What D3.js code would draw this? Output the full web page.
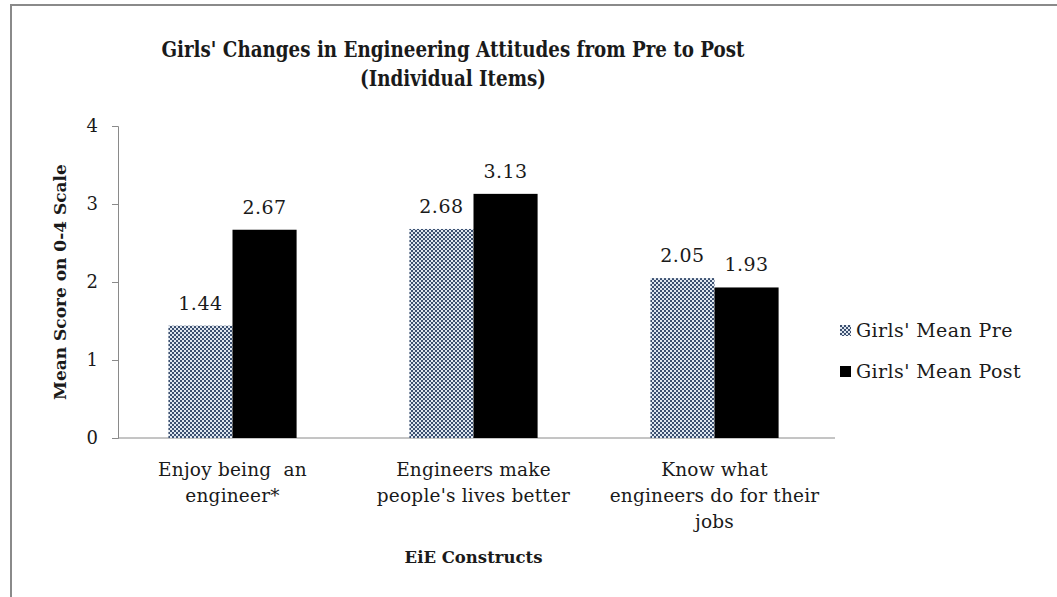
<!DOCTYPE html>
<html>
<head>
<meta charset="utf-8">
<script src="https://cdn.jsdelivr.net/npm/d3@7"></script>
<style>
  body { margin: 0; background: #fff; }
  text { font-family: "DejaVu Serif", serif; fill: #1a1a1a; white-space: pre; }
</style>
</head>
<body>
<svg id="chart" width="1057" height="597"></svg>
<script>
const categories = [
    ["Enjoy being  an", "engineer*"],
    ["Engineers make", "people's lives better"],
    ["Know what", "engineers do for their", "jobs"]
];
const seriesNames = ["Girls' Mean Pre", "Girls' Mean Post"];
const preValues = [1.44, 2.68, 2.05];
const postValues = [2.67, 3.13, 1.93];
const yTicks = [0, 1, 2, 3, 4];

const svg = d3.select("#chart");

// frame
svg.append("rect")
    .attr("x", 11).attr("y", 5)
    .attr("width", 1100).attr("height", 700)
    .attr("fill", "none")
    .attr("stroke", "#8a8a8a")
    .attr("stroke-width", 2);

// checker pattern for the pre bars
const defs = svg.append("defs");
const pat = defs.append("pattern")
    .attr("id", "checker")
    .attr("width", 4).attr("height", 4)
    .attr("patternUnits", "userSpaceOnUse");
pat.append("rect").attr("width", 4).attr("height", 4).attr("fill", "#dfe7f0");
pat.append("rect").attr("x", 0).attr("y", 0).attr("width", 2).attr("height", 2).attr("fill", "#3c5070");
pat.append("rect").attr("x", 2).attr("y", 2).attr("width", 2).attr("height", 2).attr("fill", "#3c5070");

const axisX = 118, axisEnd = 835, yTop = 126, yBottom = 438;

const xScale = d3.scaleBand()
    .domain(d3.range(categories.length))
    .range([112, axisEnd]);

const xInner = d3.scaleBand()
    .domain([0, 1])
    .range([0, xScale.bandwidth()])
    .paddingOuter(0.88);

const yScale = d3.scaleLinear()
    .domain([0, 4])
    .range([yBottom, yTop]);

// y axis
const yAxis = svg.append("g")
    .attr("transform", `translate(${axisX},0)`)
    .call(d3.axisLeft(yScale).tickValues(yTicks).tickSize(6).tickPadding(14).tickFormat(d3.format("d")));
yAxis.selectAll("path, line").attr("stroke", "#8a8a8a");
yAxis.selectAll("text").style("font-size", "18px").attr("font-family", "DejaVu Serif").attr("fill", "#1a1a1a");

// x axis baseline
svg.append("line")
    .attr("x1", axisX).attr("x2", axisEnd)
    .attr("y1", yBottom).attr("y2", yBottom)
    .attr("stroke", "#8a8a8a");

const groups = svg.selectAll(".grp")
    .data(categories)
    .enter().append("g")
    .attr("transform", (d, i) => `translate(${xScale(i)},0)`);

const seriesVals = [preValues, postValues];
const fills = ["url(#checker)", "#000"];

groups.each(function (cat, i) {
    const g = d3.select(this);
    [0, 1].forEach(s => {
        const v = seriesVals[s][i];
        g.append("rect")
            .attr("x", xInner(s))
            .attr("y", yScale(v))
            .attr("width", xInner.bandwidth())
            .attr("height", yBottom - yScale(v))
            .attr("fill", fills[s]);
        g.append("text")
            .attr("x", xInner(s) + xInner.bandwidth() / 2)
            .attr("y", yScale(v) - 16)
            .attr("text-anchor", "middle")
            .style("font-size", "19px")
            .style("letter-spacing", "0.5px")
            .text(d3.format(".2f")(v));
    });
    const lbl = g.append("text")
        .attr("text-anchor", "middle")
        .style("font-size", "18.5px")
        .style("letter-spacing", "0.2px");
    cat.forEach((line, k) => {
        lbl.append("tspan")
            .attr("x", xScale.bandwidth() / 2)
            .attr("y", 476 + k * 26)
            .text(line);
    });
});

// titles (condensed like the original bold face)
const title = svg.append("g")
    .style("font-size", "23px")
    .style("font-weight", "bold");
["Girls' Changes in Engineering Attitudes from Pre to Post", "(Individual Items)"].forEach((t, k) => {
    const el = title.append("text")
        .attr("x", 453).attr("y", 57 + k * 29)
        .attr("text-anchor", "middle")
        .style("font-weight", "bold")
        .text(t);
    const w = el.node().getComputedTextLength();
    el.attr("textLength", w * 0.795).attr("lengthAdjust", "spacingAndGlyphs");
});

svg.append("text")
    .attr("transform", `translate(66,${(yTop + yBottom) / 2}) rotate(-90)`)
    .attr("text-anchor", "middle")
    .style("font-size", "17px")
    .style("font-weight", "bold")
    .text("Mean Score on 0-4 Scale");

svg.append("text")
    .attr("x", (112 + axisEnd) / 2).attr("y", 563)
    .attr("text-anchor", "middle")
    .style("font-size", "16.5px")
    .style("font-weight", "bold")
    .text("EiE Constructs");

// legend
const legend = svg.selectAll(".leg")
    .data(seriesNames)
    .enter().append("g")
    .attr("transform", (d, i) => `translate(840,${325 + i * 41})`);
legend.append("rect")
    .attr("width", 11).attr("height", 11)
    .attr("fill", (d, i) => fills[i]);
legend.append("text")
    .attr("x", 16).attr("y", 12)
    .style("font-size", "19px")
    .style("letter-spacing", "0.4px")
    .text(d => d);
</script>
</body>
</html>
